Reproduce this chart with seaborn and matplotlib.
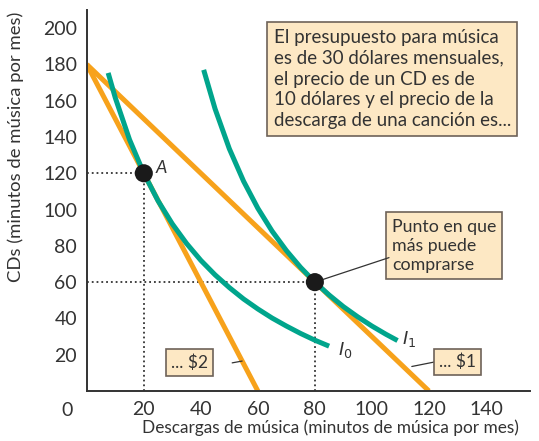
import matplotlib
matplotlib.use('Agg')
import matplotlib.pyplot as plt
import seaborn as sns
import pandas as pd

# data
budget_2_x = [0, 60]
budget_2_y = [180, 0]
budget_1_x = [0, 120]
budget_1_y = [180, 0]

i0_x = [7.5, 10, 15, 20, 25, 30, 35, 40, 45, 50, 55, 60, 65, 70, 75, 80, 85]
i0_y = [175.3, 161.6, 138.5, 120.0, 104.8, 92.1, 81.3, 72.0, 64.0, 57.0, 50.7,
        45.2, 40.2, 35.8, 31.7, 28.0, 24.7]
i1_x = [41, 45, 50, 55, 60, 65, 70, 75, 80, 85, 90, 95, 100, 105, 109]
i1_y = [177, 155.5, 133.5, 115.6, 100.7, 88.1, 77.4, 68.1, 60, 52.9, 46.5,
        40.9, 35.8, 31.2, 27.8]

points_x = [20, 80]
points_y = [120, 60]

x_ticks = [20, 40, 60, 80, 100, 120, 140]
y_ticks = [20, 40, 60, 80, 100, 120, 140, 160, 180, 200]

orange = '#F7A21B'
teal = '#00A58C'
box_fc = '#FDE8C4'
box_ec = '#6E6259'
dark = '#333333'

sns.set_style('white')
plt.rcParams['font.family'] = ['Lato', 'DejaVu Sans']

fig = plt.figure(figsize=(5.39, 4.41), dpi=100)
ax = fig.add_axes([0.161, 0.1134, 0.822, 0.864])

# dotted guides
ax.plot([0, 20], [120, 120], ls=':', color=dark, lw=1.3)
ax.plot([20, 20], [0, 120], ls=':', color=dark, lw=1.3)
ax.plot([0, 80], [60, 60], ls=':', color=dark, lw=1.3)
ax.plot([80, 80], [0, 60], ls=':', color=dark, lw=1.3)

sns.lineplot(x=budget_2_x, y=budget_2_y, color=orange, lw=3.6, ax=ax,
             solid_capstyle='butt')
sns.lineplot(x=budget_1_x, y=budget_1_y, color=orange, lw=3.6, ax=ax,
             solid_capstyle='butt')
sns.lineplot(x=i0_x, y=i0_y, color=teal, lw=3.6, ax=ax, sort=False,
             solid_capstyle='butt')
sns.lineplot(x=i1_x, y=i1_y, color=teal, lw=3.6, ax=ax, sort=False,
             solid_capstyle='butt')
sns.scatterplot(x=points_x, y=points_y, color='#1a1a1a', s=170, ax=ax,
                edgecolor='none', zorder=5)

ax.set_xlim(0, 155.4)
ax.set_ylim(0, 210)
ax.set_xticks(x_ticks)
ax.set_yticks(y_ticks)
ax.tick_params(direction='in', length=7, width=1.2, colors=dark,
               labelsize=14, pad=7)
for s in ['top', 'right']:
    ax.spines[s].set_visible(False)
for s in ['left', 'bottom']:
    ax.spines[s].set_color(dark)
    ax.spines[s].set_linewidth(1.4)

ax.text(-5, -6, '0', ha='right', va='top', fontsize=14, color=dark)
ax.set_xlabel('Descargas de música (minutos de música por mes)',
              fontsize=12.4, color=dark, va='center')
ax.xaxis.set_label_coords(0.549, -0.097)
ax.set_ylabel('CDs (minutos de música por mes)', fontsize=13.3, color=dark,
              va='center')
ax.yaxis.set_label_coords(-0.16, 0.64)

ax.text(24, 123, 'A', fontsize=13, style='italic', color=dark,
        ha='left', va='center')
ax.text(88, 20, '$I_0$', fontsize=13, color=dark)
ax.text(110.5, 26, '$I_1$', fontsize=13, color=dark)

bb = dict(boxstyle='square,pad=0.35', fc=box_fc, ec=box_ec, lw=1.2)
ax.text(65.5, 199.5,
        'El presupuesto para música\nes de 30 dólares mensuales,\n'
        'el precio de un CD es de\n10 dólares y el precio de la\n'
        'descarga de una canción es...',
        fontsize=13.5, color=dark, ha='left', va='top', linespacing=1.27,
        bbox=bb)
ax.text(107, 95, 'Punto en que\nmás puede\ncomprarse', fontsize=12.8,
        color=dark, ha='left', va='top', linespacing=1.25, bbox=bb)
ax.plot([80, 106], [60, 73.5], color=dark, lw=0.9, zorder=4)

bs = dict(boxstyle='square,pad=0.3', fc=box_fc, ec=box_ec, lw=1.2)
ax.text(29.5, 15.5, '... $2', fontsize=12.5, color=dark, ha='left',
        va='center', bbox=bs)
ax.plot([51, 54.5], [15.5, 16.5], color=dark, lw=0.9)
ax.text(123.5, 16, '... $1', fontsize=12.5, color=dark, ha='left',
        va='center', bbox=bs)
ax.plot([114, 122], [13.5, 16], color=dark, lw=0.9)

fig.savefig('out.png', dpi=100)
